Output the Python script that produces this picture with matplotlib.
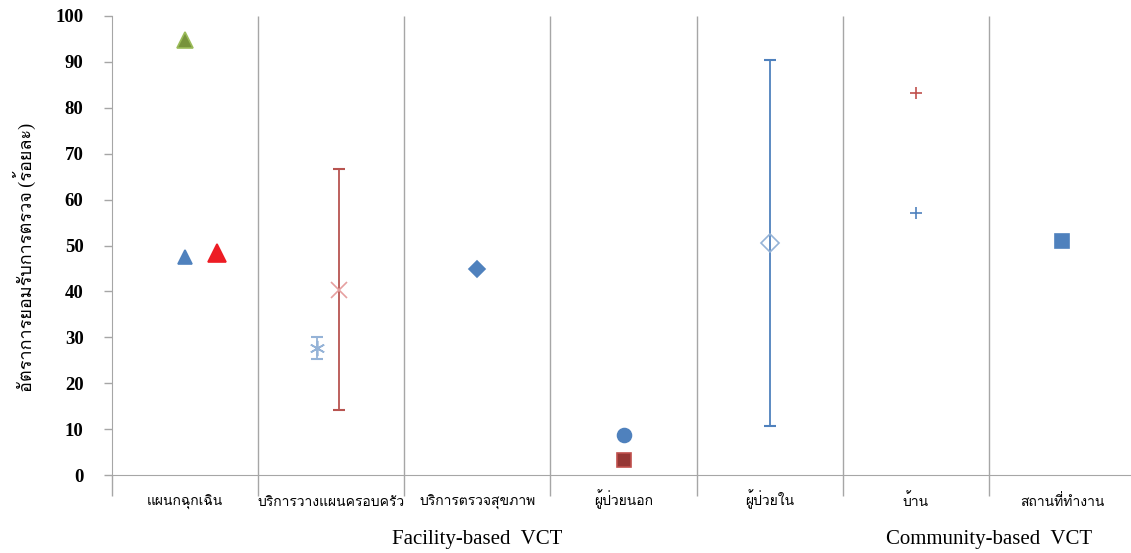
import matplotlib
matplotlib.use('Agg')
import matplotlib.pyplot as plt
from matplotlib import font_manager
from matplotlib.ft2font import FT2Font

# categories along the x axis (one column each)
categories = ['แผนกฉุกเฉิน', 'บริการวางแผนครอบครัว', 'บริการตรวจสุขภาพ',
              'ผู้ป่วยนอก', 'ผู้ป่วยใน', 'บ้าน', 'สถานที่ทำงาน']
groups = ['Facility-based  VCT', 'Community-based  VCT']
group_first = [0, 5]
group_last = [4, 6]
y_label = 'อัตราการยอมรับการตรวจ (ร้อยละ)'
y_ticks = [0, 10, 20, 30, 40, 50, 60, 70, 80, 90, 100]

# one value per study point
point_cat = [0, 0, 0, 1, 1, 2, 3, 3, 4, 5, 5, 6]
point_val = [94.8, 47.6, 48.3, 27.7, 40.4, 44.9, 8.8, 3.3, 50.5, 83.3, 57.1, 51.0]
# confidence limits (None where no interval is drawn)
ci_low = [None, None, None, 25.2, 14.2, None, None, None, 10.7, None, None, None]
ci_high = [None, None, None, 30.1, 66.7, None, None, None, 90.5, None, None, None]

# style for each point: offset inside the column, marker, size, face, edge
styles = [
    (0.0, '^', 11.5, '#77933C', '#9BBB59'),
    (0.0, '^', 10.5, '#4F81BD', '#4F81BD'),
    (0.22, '^', 13.5, '#ED1C24', '#ED1C24'),
    (-0.1, (6, 2, 0), 11, '#95B3D7', '#95B3D7'),
    (0.05, 'x', 11, '#E6A0A0', '#E6A0A0'),
    (0.0, 'D', 8, '#4F81BD', '#4F81BD'),
    (0.0, 'o', 10, '#4F81BD', '#4F81BD'),
    (0.0, 's', 9.5, '#953735', '#C0504D'),
    (0.0, 'D', 9, 'none', '#95B3D7'),
    (0.0, '+', 9, '#C0504D', '#C0504D'),
    (0.0, '+', 9, '#4F81BD', '#4F81BD'),
    (0.0, 's', 9.5, '#4F81BD', '#4F81BD'),
]
err_colors = {3: '#95B3D7', 4: '#B85450', 8: '#4F81BD'}

# find an installed font that can draw Thai
thai = []
for f in font_manager.fontManager.ttflist:
    try:
        if 0x0E01 in FT2Font(f.fname).get_charmap() and f.name not in thai:
            thai.append(f.name)
    except Exception:
        pass
thai_family = ['Liberation Serif'] + thai + ['DejaVu Sans']

W, H = 1131, 553
fig = plt.figure(figsize=(W / 100, H / 100), dpi=100)
ax = fig.add_axes([112 / W, 1 - 475 / H, (1135 - 112) / W, (475 - 16) / H])

grey = '#A6A6A6'
ax.set_xlim(0, 7)
ax.set_ylim(0, 100)
for s in ['top', 'right']:
    ax.spines[s].set_visible(False)
ax.spines['left'].set_color(grey)
ax.spines['bottom'].set_color(grey)

# column separators
ax.vlines(range(1, 7), 0, 100, color=grey, lw=1)
ax.set_xticks(range(0, 8))
ax.set_xticklabels([])
ax.tick_params(axis='x', which='major', length=15, color=grey, width=1)
ax.set_xticks([i + 0.5 for i in range(len(categories))], minor=True)
ax.set_xticklabels(categories, minor=True, family=thai_family, fontsize=10,
                   va='baseline')
ax.tick_params(axis='x', which='minor', length=0, pad=22)

ax.set_yticks(y_ticks)
ax.set_yticklabels([str(t) for t in y_ticks], family='Liberation Serif',
                   fontweight='bold', fontsize=13.5)
ax.tick_params(axis='y', length=6, color=grey, width=1, pad=14.5)
ax.set_ylabel(y_label, family=thai_family, fontsize=13)
ax.yaxis.set_label_coords(-0.074, 0.475)

for i in range(len(point_val)):
    off, m, ms, fc, ec = styles[i]
    x = point_cat[i] + 0.5 + off
    if ci_low[i] is not None:
        ax.errorbar(x, point_val[i],
                    yerr=[[point_val[i] - ci_low[i]], [ci_high[i] - point_val[i]]],
                    fmt='none', ecolor=err_colors[i], elinewidth=1.3,
                    capsize=4, capthick=1.5, zorder=2)
    ax.plot(x, point_val[i], marker=m, ms=ms, mfc=fc, mec=ec, mew=1.2,
            ls='none', zorder=3, clip_on=False)

for g, a, b in zip(groups, group_first, group_last):
    ax.text((a + b + 1) / 2, -14.1, g, ha='center', va='center',
            family='Liberation Serif', fontsize=15, transform=ax.transData)

fig.savefig('out.png', dpi=100)
